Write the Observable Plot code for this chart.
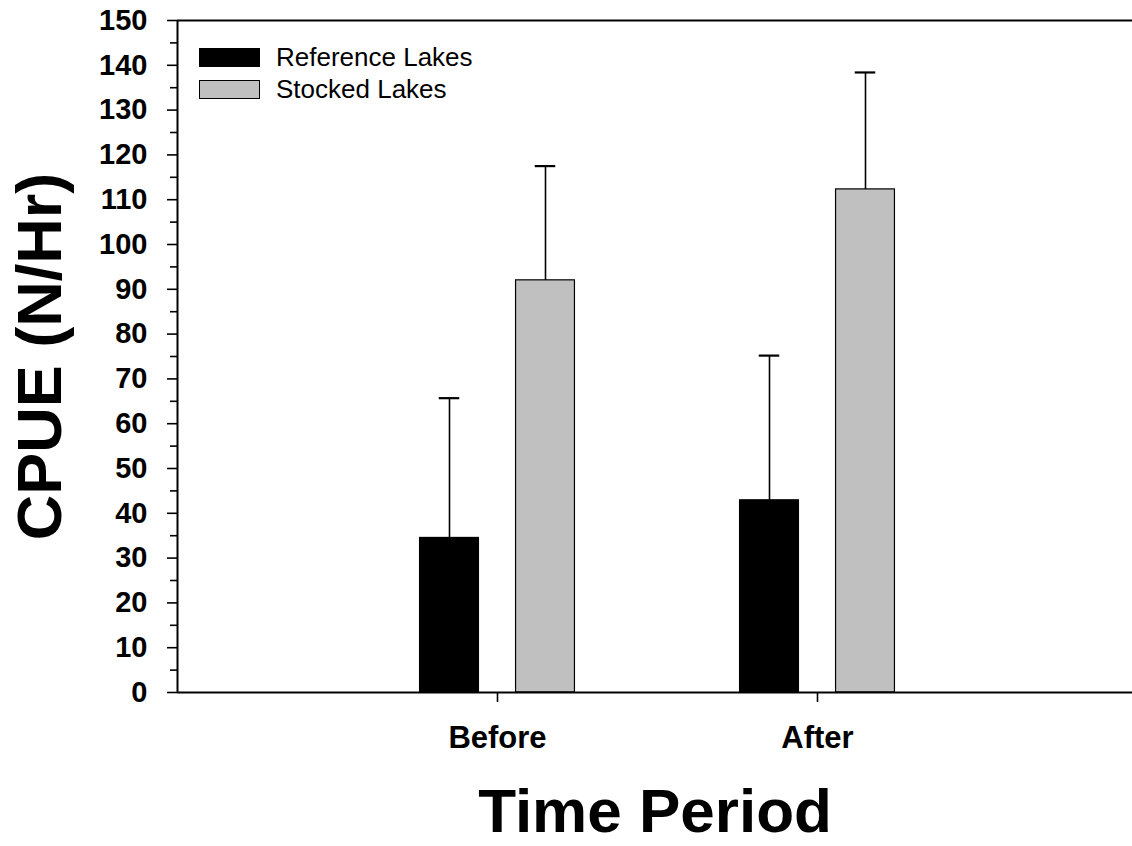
<!DOCTYPE html>
<html>
<head>
<meta charset="utf-8">
<script src="https://cdn.jsdelivr.net/npm/d3@7"></script>
<script src="https://cdn.jsdelivr.net/npm/@observablehq/plot@0.6"></script>
<style>
  html, body { margin: 0; padding: 0; background: #fff; }
  #wrap { position: relative; width: 1132px; height: 846px; font-family: Arial, "Liberation Sans", sans-serif; }
  #legend { position: absolute; left: 199px; top: 41px; }
  .row { display: flex; align-items: center; height: 32px; }
  .sw { width: 61px; height: 19px; box-sizing: border-box; border: 1px solid #000; margin-right: 16px; }
  .lab { font-size: 26px; line-height: 32px; color: #000; }
</style>
</head>
<body>
<div id="wrap"></div>
<script>
const periods = ["Before", "After"];
const groups = ["Reference Lakes", "Stocked Lakes"];
const groupColors = ["#000000", "#c0c0c0"];
const referenceMean = [34.5, 42.9];
const referenceSE = [31.2, 32.3];
const stockedMean = [92.0, 112.3];
const stockedSE = [25.5, 26.1];
const yTicks = [0, 10, 20, 30, 40, 50, 60, 70, 80, 90, 100, 110, 120, 130, 140, 150];
const yMinorTicks = [5, 15, 25, 35, 45, 55, 65, 75, 85, 95, 105, 115, 125, 135, 145];
const yLabel = "CPUE (N/Hr)";
const xLabel = "Time Period";

const offsets = [-0.15, 0.15];
const halfBar = 0.092;
const halfCap = 0.032;
const means = [referenceMean, stockedMean];
const ses = [referenceSE, stockedSE];
const rows = [];
periods.forEach((p, i) => {
  groups.forEach((g, j) => {
    rows.push({period: p, group: g, x: i + 1 + offsets[j], mean: means[j][i], upper: means[j][i] + ses[j][i]});
  });
});

const font = "Arial, 'Liberation Sans', sans-serif";
const chart = Plot.plot({
  width: 1132,
  height: 846,
  marginLeft: 177,
  marginRight: 0,
  marginTop: 20,
  marginBottom: 154,
  style: {fontFamily: font, color: "#000", background: "#fff", overflow: "visible"},
  x: {domain: [0, 3], range: [177, 1137]},
  y: {domain: [0, 150]},
  color: {domain: groups, range: groupColors},
  marks: [
    Plot.rectY(rows, {x1: d => d.x - halfBar, x2: d => d.x + halfBar, y1: 0, y2: "mean", fill: "group", stroke: "#000", strokeWidth: 1.2}),
    Plot.ruleX(rows, {x: "x", y1: "mean", y2: "upper", stroke: "#000", strokeWidth: 1.6}),
    Plot.ruleY(rows, {y: "upper", x1: d => d.x - halfCap, x2: d => d.x + halfCap, stroke: "#000", strokeWidth: 2.2}),
    Plot.axisY({ticks: yTicks, tickSize: 10, tickPadding: 20, fontSize: 29, fontWeight: "bold", strokeWidth: 1.6, label: null}),
    Plot.axisY({ticks: yMinorTicks, tickSize: 7, tickFormat: () => "", strokeWidth: 1.6, label: null}),
    Plot.axisX({ticks: [1, 2], tickFormat: v => periods[v - 1], tickSize: 10, tickPadding: 23, fontSize: 31, fontWeight: "bold", strokeWidth: 1.6, label: null}),
    Plot.ruleY([0], {stroke: "#000", strokeWidth: 2}),
    Plot.ruleY([150], {stroke: "#000", strokeWidth: 2}),
    Plot.ruleX([0], {stroke: "#000", strokeWidth: 2}),
    Plot.text([yLabel], {frameAnchor: "left", text: d => d, rotate: -90, dx: -137, fontSize: 63, fontWeight: "bold", textAnchor: "middle", lineAnchor: "middle", fill: "#000"}),
    Plot.text([xLabel], {frameAnchor: "bottom", text: d => d, dy: 120, fontSize: 62, fontWeight: "bold", textAnchor: "middle", lineAnchor: "middle", fill: "#000"})
  ]
});

const wrap = document.getElementById("wrap");
wrap.appendChild(chart);
const legend = document.createElement("div");
legend.id = "legend";
groups.forEach((g, j) => {
  const row = document.createElement("div");
  row.className = "row";
  const sw = document.createElement("div");
  sw.className = "sw";
  sw.style.background = groupColors[j];
  const lab = document.createElement("span");
  lab.className = "lab";
  lab.textContent = g;
  row.appendChild(sw);
  row.appendChild(lab);
  legend.appendChild(row);
});
wrap.appendChild(legend);
</script>
</body>
</html>
